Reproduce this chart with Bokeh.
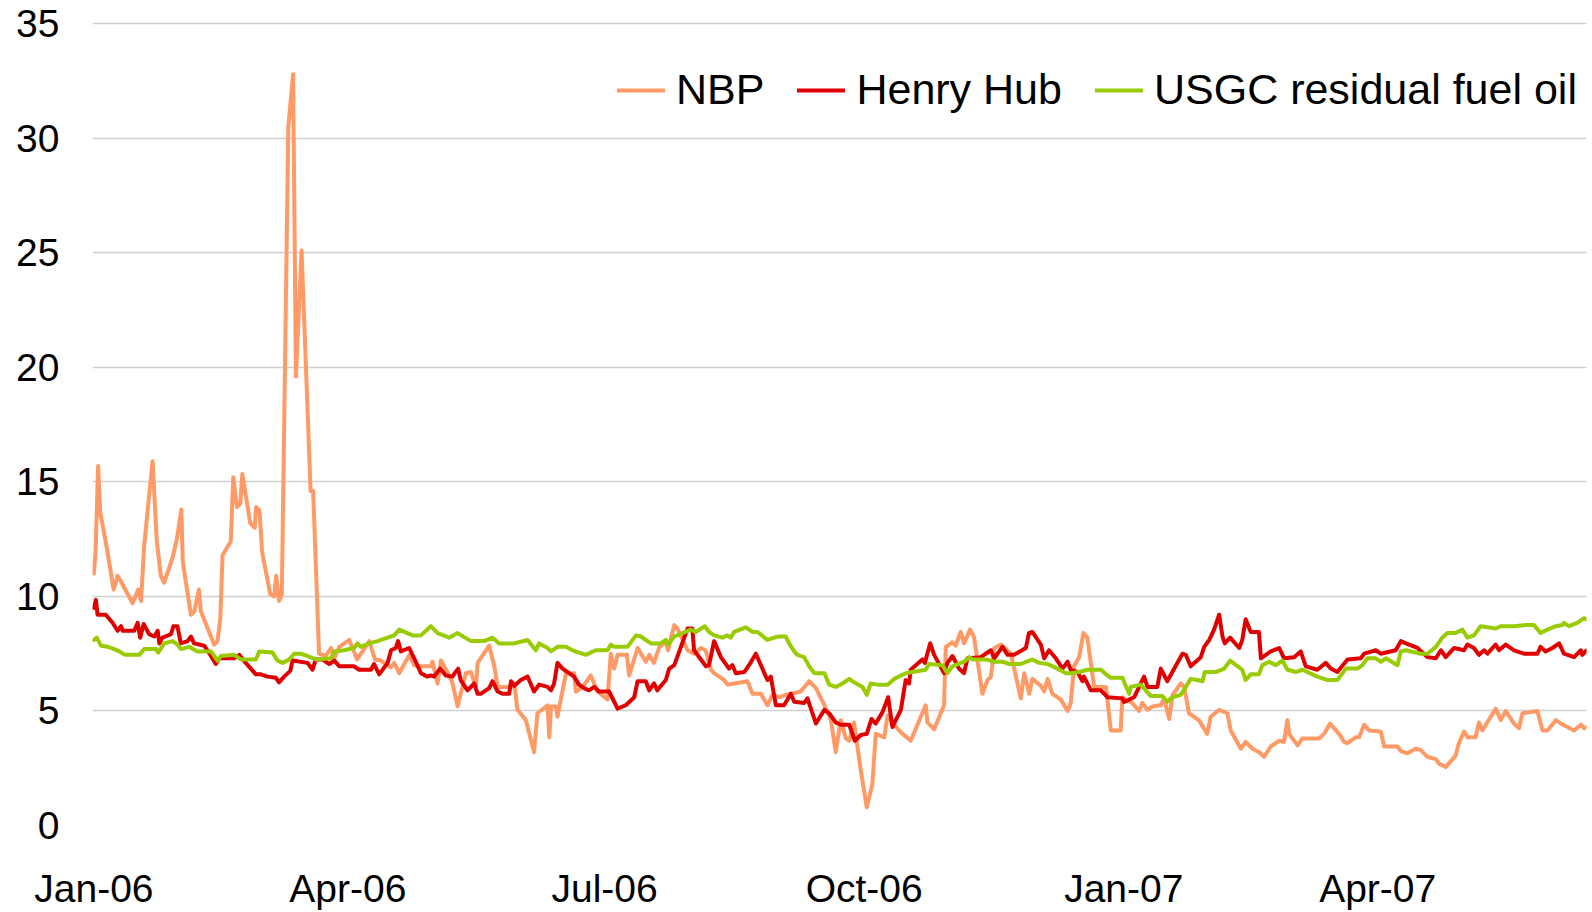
import pandas as pd
from bokeh.plotting import figure
from bokeh.models import Range1d, FixedTicker, Legend, LegendItem
from bokeh.embed import file_html
from bokeh.resources import INLINE

# ---------------- data (days since 1 Jan 2006) ----------------
base_date = "2006-01-01"

nbp_days = [0.0, 0.6, 1.5, 2.2, 4.6, 7.0, 8.4, 9.6, 13.7, 15.7, 16.7, 17.8, 20.8, 22.3, 23.7, 24.9,
            27.9, 29.4, 31.0, 31.5, 34.4, 35.6, 37.2, 37.9, 42.6, 43.8, 44.8, 45.6, 48.5, 49.4, 50.7,
            51.9, 52.6, 55.4, 57.0, 57.5, 58.7, 59.6, 62.5, 63.9, 64.6, 65.6, 66.6, 68.9, 70.6, 71.6,
            73.6, 76.8, 77.7, 79.8, 82.2, 84.0, 85.2, 87.0, 90.5, 93.3, 97.6, 99.6, 101.7, 105.2,
            106.4, 108.2, 111.8, 113.5, 115.9, 119.4, 120.0, 121.8, 123.0, 125.3, 127.1, 128.9,
            131.8, 133.6, 135.4, 136.0, 140.1, 141.9, 143.1, 148.4, 149.0, 150.1, 153.1, 156.0,
            157.2, 160.8, 161.4, 162.0, 163.7, 164.3, 167.3, 170.2, 170.8, 173.2, 176.1, 178.5,
            182.0, 183.2, 184.4, 185.6, 188.9, 189.7, 192.7, 195.6, 196.8, 198.5, 200.4, 202.7,
            203.5, 205.7, 206.8, 210.4, 212.7, 215.1, 216.8, 218.7, 219.8, 223.4, 224.6, 227.0,
            231.6, 233.4, 236.4, 238.7, 240.5, 242.9, 245.2, 250.5, 253.5, 255.9, 258.9, 261.2,
            262.9, 264.7, 266.5, 267.7, 269.4, 271.8, 273.9, 275.9, 277.1, 280.1, 281.3, 284.3,
            286.6, 289.5, 294.8, 295.4, 297.8, 301.3, 301.9, 304.3, 305.4, 307.2, 308.4, 310.5,
            311.9, 314.9, 316.7, 317.9, 319.1, 321.5, 325.0, 328.5, 329.7, 331.5, 332.6, 335.6,
            336.8, 338.0, 339.7, 342.7, 345.1, 346.2, 347.4, 349.2, 350.7, 352.1, 354.5, 356.9,
            358.7, 360.4, 363.9, 364.5, 368.0, 370.4, 371.6, 373.4, 375.2, 378.1, 379.3, 381.1,
            382.3, 385.2, 386.4, 388.1, 391.6, 394.6, 395.8, 398.8, 401.7, 402.9, 406.5, 408.2,
            410.6, 413.0, 414.7, 417.1, 420.1, 421.8, 423.0, 423.6, 426.6, 428.3, 434.2, 436.0,
            438.1, 441.3, 443.1, 444.3, 447.2, 448.4, 450.2, 452.0, 456.1, 457.3, 462.0, 463.2,
            465.5, 468.5, 470.2, 472.6, 475.6, 476.7, 479.1, 482.6, 483.8, 485.6, 486.8, 489.7,
            490.9, 492.1, 493.3, 496.8, 498.6, 500.4, 503.3, 505.1, 506.3, 511.6, 513.4, 515.2,
            518.1, 519.9, 524.6, 527.0, 528.1, 529.0]
nbp_vals = [11.0, 12.0, 15.7, 13.7, 12.1, 10.3, 10.9, 10.65, 9.7, 10.3, 9.8, 12.2, 15.9, 12.4, 10.9, 10.6,
            11.7, 12.5, 13.8, 11.5, 9.2, 9.35, 10.3, 9.35, 7.9, 8.05, 9.06, 11.8, 12.4, 15.2, 13.9,
            14.05, 15.35, 13.2, 13.0, 13.9, 13.75, 11.95, 10.1, 10.0, 10.9, 9.8, 10.1, 30.5, 32.8, 19.6,
            25.1, 14.6, 14.6, 7.5, 7.4, 7.75, 7.3, 7.8, 8.1, 7.25, 8.05, 7.25, 7.2, 6.9,
            7.1, 6.65, 7.45, 7.0, 6.95, 6.95, 7.15, 6.2, 7.2, 6.7, 6.2, 5.2,
            6.65, 6.7, 6.05, 7.1, 7.85, 6.95, 6.05, 6.05, 6.2, 5.05, 4.6, 3.2,
            4.9, 5.25, 3.85, 5.2, 5.2, 4.75, 6.65, 6.65, 5.85, 6.05, 6.55, 5.85,
            5.5, 7.5, 6.85, 7.45, 7.45, 6.55, 7.75, 7.15, 7.45, 7.1, 7.8, 8.0,
            7.65, 8.75, 8.6, 7.65, 7.5, 7.75, 7.65, 6.8, 6.65, 6.35, 6.15, 6.2,
            6.3, 5.75, 5.75, 5.25, 5.7, 5.6, 5.7, 5.85, 6.3, 6.0, 5.25, 4.6,
            3.2, 4.6, 3.8, 3.7, 4.5, 2.4, 0.8, 1.8, 4.0, 3.85, 4.8, 4.3,
            4.0, 3.7, 5.25, 4.5, 4.2, 5.25, 7.8, 8.0, 7.85, 8.45, 7.95, 8.55,
            8.25, 5.75, 6.35, 6.5, 7.75, 7.9, 7.5, 5.55, 6.65, 5.75, 6.4, 6.1,
            5.85, 6.4, 5.75, 5.5, 5.0, 5.35, 6.95, 7.35, 8.4, 8.2, 6.05, 6.05,
            6.05, 4.15, 4.15, 5.6, 5.35, 5.0, 5.35, 5.05, 5.2, 5.25, 5.55, 4.65,
            5.7, 6.2, 6.05, 4.9, 4.6, 4.0, 4.75, 5.05, 4.9, 4.15, 3.35, 3.65,
            3.35, 3.2, 3.0, 3.45, 3.7, 3.65, 4.6, 4.0, 3.5, 3.8, 3.8, 4.0,
            4.45, 4.0, 3.65, 3.6, 3.85, 3.85, 4.4, 4.15, 4.1, 3.45, 3.45, 3.25,
            3.15, 3.35, 3.3, 3.0, 2.9, 2.7, 2.55, 3.05, 3.6, 4.1, 3.85, 3.85,
            4.5, 4.15, 4.4, 5.1, 4.6, 5.0, 4.45, 4.25, 4.9, 5.0, 4.15, 4.15,
            4.6, 4.45, 4.15, 4.4, 4.25, 4.3]

hh_days = [0.0, 0.7, 1.3, 4.2, 6.6, 8.4, 9.6, 10.2, 14.3, 15.5, 16.4, 17.6, 19.6, 21.4, 22.6, 23.2,
           24.3, 27.3, 28.2, 29.6, 30.8, 33.2, 34.4, 35.5, 37.3, 39.1, 41.5, 43.2, 44.4, 49.7, 51.5,
           53.8, 57.4, 59.2, 61.5, 64.5, 65.6, 67.4, 69.6, 70.4, 75.7, 77.5, 78.6, 81.0, 83.4, 85.2,
           87.0, 92.2, 94.0, 98.2, 99.3, 101.1, 104.1, 105.3, 107.0, 107.8, 108.8, 111.7, 113.5,
           115.9, 118.2, 119.4, 120.6, 122.7, 124.7, 127.1, 127.9, 129.1, 130.0, 132.4, 134.8,
           136.0, 137.1, 140.1, 141.3, 143.1, 144.8, 147.2, 147.8, 149.0, 151.3, 153.7, 156.0,
           157.8, 160.8, 162.0, 163.1, 164.3, 166.1, 168.4, 170.2, 171.9, 173.7, 175.5, 177.3,
           179.0, 182.6, 185.6, 188.5, 191.5, 192.7, 195.6, 196.8, 198.5, 199.7, 202.7, 203.9,
           205.7, 210.4, 212.1, 212.7, 216.9, 218.0, 219.8, 222.2, 225.1, 226.3, 227.5, 230.5,
           232.2, 234.6, 238.7, 239.9, 241.7, 244.6, 247.0, 248.2, 251.7, 252.9, 255.9, 258.9,
           260.6, 262.9, 264.7, 267.7, 269.7, 271.8, 273.9, 275.6, 277.1, 279.5, 281.5, 283.0,
           286.0, 287.7, 288.9, 289.5, 293.6, 294.5, 296.4, 297.8, 301.3, 302.5, 304.3, 306.6,
           308.4, 309.6, 314.3, 317.9, 319.1, 322.0, 323.8, 326.1, 330.3, 331.4, 332.6, 335.6,
           336.8, 338.5, 340.9, 343.3, 345.1, 346.2, 348.6, 350.4, 350.9, 353.3, 356.9, 359.2,
           364.5, 365.1, 368.7, 372.2, 373.4, 376.9, 378.1, 380.4, 385.8, 387.0, 388.7, 392.3,
           393.5, 395.3, 397.0, 398.8, 400.0, 400.8, 402.7, 405.9, 407.0, 408.2, 410.0, 412.9,
           413.6, 417.1, 420.1, 421.8, 425.4, 427.7, 429.5, 433.6, 436.6, 438.4, 440.7, 444.3,
           449.0, 450.2, 454.3, 456.1, 461.4, 463.2, 465.0, 469.1, 472.6, 475.6, 477.4, 479.1,
           482.1, 485.6, 486.8, 489.1, 490.9, 492.7, 493.9, 496.8, 498.0, 500.4, 503.3, 506.8,
           511.6, 512.7, 514.5, 516.9, 519.3, 521.0, 524.6, 527.0, 527.5, 529.1]
hh_vals = [9.5, 9.85, 9.2, 9.2, 8.85, 8.5, 8.7, 8.5, 8.5, 8.85, 8.2, 8.8, 8.35, 8.25, 8.5, 7.95,
           8.2, 8.35, 8.7, 8.7, 7.95, 8.05, 8.25, 7.95, 7.9, 7.85, 7.4, 7.05, 7.3, 7.3, 7.45,
           7.1, 6.6, 6.6, 6.5, 6.45, 6.25, 6.5, 6.75, 7.2, 7.1, 6.8, 7.25, 7.25, 7.05, 7.2,
           6.95, 6.95, 6.8, 6.8, 7.05, 6.6, 7.1, 7.65, 7.75, 8.05, 7.6, 7.75, 7.3,
           6.65, 6.5, 6.55, 6.5, 6.85, 6.55, 6.5, 6.65, 6.85, 6.35, 5.9, 6.2,
           5.75, 5.75, 6.0, 6.3, 5.85, 5.75, 5.75, 6.3, 6.1, 6.35, 6.5, 5.85,
           6.15, 6.05, 5.9, 6.2, 7.1, 6.85, 6.65, 6.5, 6.15, 6.0, 5.9, 6.05,
           5.85, 5.85, 5.1, 5.25, 5.6, 6.3, 6.3, 5.9, 6.2, 5.9, 6.35, 6.85,
           7.0, 8.6, 8.6, 7.65, 6.95, 7.0, 8.05, 7.35, 6.85, 7.0, 6.65, 6.7,
           7.0, 7.5, 6.35, 6.5, 5.25, 5.25, 5.75, 5.4, 5.35, 5.55, 4.45, 5.05,
           4.9, 4.5, 4.4, 4.4, 3.7, 3.95, 4.0, 4.65, 4.45, 4.95, 5.6, 4.3,
           5.05, 6.35, 6.2, 6.8, 7.25, 7.1, 7.95, 7.45, 6.65, 7.1, 7.4, 6.85,
           6.65, 7.3, 7.35, 7.65, 7.3, 7.8, 7.45, 7.45, 7.75, 8.4, 8.45, 7.9,
           7.3, 7.65, 7.3, 6.85, 7.15, 6.8, 6.7, 6.3, 6.5, 5.9, 5.9, 5.6,
           5.55, 5.4, 5.6, 6.5, 6.05, 6.05, 6.85, 6.3, 7.5, 7.45, 6.95, 7.35,
           7.8, 8.1, 8.55, 9.2, 8.25, 7.95, 8.2, 7.75, 8.1, 9.0, 8.45, 8.45,
           7.3, 7.6, 7.75, 7.3, 7.35, 7.6, 6.95, 6.8, 7.1, 6.85, 6.7, 7.25,
           7.3, 7.5, 7.65, 7.5, 7.65, 8.05, 7.95, 7.75, 7.35, 7.3, 7.65, 7.35,
           7.75, 7.65, 7.9, 7.75, 7.45, 7.65, 7.5, 7.9, 7.65, 7.9, 7.65, 7.5,
           7.5, 7.8, 7.6, 7.75, 7.95, 7.5, 7.35, 7.65, 7.45, 7.65]

usgc_days = [0.0, 1.0, 2.5, 4.9, 7.2, 9.0, 11.0, 16.1, 17.8, 22.0, 22.8, 24.9, 27.9, 29.6, 30.8, 33.8,
             36.7, 41.5, 43.8, 45.0, 49.7, 52.1, 57.4, 58.6, 63.3, 65.1, 66.9, 69.2, 71.0, 73.3, 75.7,
             78.6, 84.0, 85.2, 88.7, 92.2, 93.4, 94.6, 97.6, 100.5, 106.4, 108.2, 112.9, 115.9, 119.4,
             121.8, 125.9, 128.9, 133.6, 138.3, 141.3, 143.6, 149.0, 153.7, 156.6, 157.8, 160.8,
             162.0, 164.3, 167.3, 169.6, 174.3, 177.9, 182.0, 183.2, 184.4, 189.1, 192.1, 193.8,
             197.4, 200.9, 202.7, 203.5, 205.7, 208.6, 211.5, 213.3, 216.5, 218.0, 219.8, 222.8,
             224.5, 225.7, 226.9, 231.0, 233.4, 235.2, 238.7, 242.3, 245.2, 246.4, 248.2, 249.3,
             251.7, 253.5, 255.3, 258.9, 260.6, 262.9, 265.3, 267.7, 269.4, 272.4, 273.9, 275.3,
             277.7, 281.3, 283.6, 287.7, 290.1, 294.8, 296.0, 300.7, 302.5, 304.3, 308.4, 310.2,
             311.3, 316.1, 319.1, 322.0, 324.4, 328.5, 332.6, 335.0, 338.0, 341.5, 344.5, 346.2,
             349.2, 352.1, 356.9, 359.2, 360.4, 364.5, 366.9, 367.5, 371.0, 374.6, 378.7, 380.4,
             382.2, 385.2, 387.0, 388.7, 391.1, 392.9, 393.7, 397.6, 400.6, 402.7, 407.0, 408.2,
             410.0, 412.9, 414.1, 416.5, 418.9, 421.2, 423.0, 426.0, 428.3, 433.6, 437.2, 440.7,
             443.7, 447.8, 449.6, 451.3, 454.3, 456.1, 457.9, 462.0, 463.2, 465.0, 470.2, 472.6,
             475.6, 477.9, 479.7, 482.6, 485.0, 486.8, 489.1, 491.5, 496.8, 498.6, 503.3, 507.5,
             510.4, 512.7, 515.1, 518.1, 520.4, 521.0, 522.8, 525.7, 528.1, 529.1]
usgc_vals = [8.1, 8.2, 7.85, 7.8, 7.7, 7.6, 7.45, 7.45, 7.7, 7.7, 7.55, 7.95, 8.05, 7.9, 7.7, 7.8,
             7.6, 7.6, 7.2, 7.4, 7.45, 7.25, 7.25, 7.6, 7.55, 7.2, 7.1, 7.25, 7.5, 7.5, 7.4,
             7.25, 7.3, 7.6, 7.65, 7.75, 7.95, 7.8, 7.95, 8.05, 8.3, 8.55, 8.3, 8.3, 8.7,
             8.4, 8.2, 8.4, 8.05, 8.05, 8.2, 7.95, 7.95, 8.1, 7.65, 7.95, 7.75,
             7.6, 7.8, 7.8, 7.65, 7.45, 7.65, 7.65, 7.9, 7.8, 7.8, 8.3, 8.25,
             7.95, 7.95, 8.1, 7.9, 8.25, 8.4, 8.55, 8.45, 8.7, 8.45, 8.3, 8.2,
             8.3, 8.2, 8.45, 8.65, 8.45, 8.45, 8.1, 8.25, 8.25, 7.95, 7.6, 7.45,
             7.35, 6.95, 6.65, 6.65, 6.15, 6.05, 6.2, 6.4, 6.25, 6.05, 5.7, 6.2,
             6.15, 6.15, 6.4, 6.65, 6.7, 6.8, 7.05, 7.0, 6.65, 6.95, 7.15, 7.35,
             7.25, 7.25, 7.15, 7.15, 7.05, 7.05, 7.25, 7.1, 7.05, 6.85, 6.65, 6.65,
             6.7, 6.8, 6.8, 6.55, 6.45, 6.45, 5.75, 6.05, 6.15, 5.65, 5.65, 5.4,
             5.6, 5.7, 6.05, 6.4, 6.35, 6.3, 6.7, 6.7, 6.85, 7.2, 6.8, 6.35,
             6.6, 6.6, 7.0, 7.15, 7.0, 7.2, 6.8, 6.7, 6.8, 6.5, 6.35, 6.35,
             6.85, 6.85, 7.0, 7.3, 7.3, 7.15, 7.3, 7.0, 7.6, 7.65, 7.5, 7.5,
             7.8, 8.2, 8.4, 8.4, 8.55, 8.2, 8.3, 8.7, 8.6, 8.7, 8.7, 8.75,
             8.75, 8.4, 8.55, 8.7, 8.75, 8.85, 8.7, 8.85, 9.05, 9.0]

series_names = ["NBP", "Henry Hub", "USGC residual fuel oil"]
series_colors = ["#FF9966", "#E00000", "#99CC00"]

tick_dates = ["2006-01-01", "2006-04-01", "2006-07-01", "2006-10-01", "2007-01-01", "2007-04-01"]
tick_labels = ["Jan-06", "Apr-06", "Jul-06", "Oct-06", "Jan-07", "Apr-07"]
y_ticks = [0, 5, 10, 15, 20, 25, 30, 35]
x_start_day = -0.5
x_end_day = 529.0

# ---------------- figure ----------------
FONT = "Liberation Sans"
p = figure(width=1592, height=912, output_backend="svg", toolbar_location=None,
           x_range=Range1d(x_start_day, x_end_day), y_range=Range1d(0, 35.1),
           min_border_left=92, min_border_right=6, min_border_top=21, min_border_bottom=87)
p.outline_line_color = None
p.background_fill_color = "white"
p.border_fill_color = "white"

tick_days = [(pd.Timestamp(d) - pd.Timestamp(base_date)).days for d in tick_dates]
p.xaxis.ticker = FixedTicker(ticks=tick_days)
p.xaxis.major_label_overrides = {int(d): lab for d, lab in zip(tick_days, tick_labels)}
p.yaxis.ticker = FixedTicker(ticks=y_ticks)

for ax in (p.xaxis[0], p.yaxis[0]):
    ax.axis_line_color = None
    ax.major_tick_line_color = None
    ax.minor_tick_line_color = None
    ax.major_tick_out = 0
    ax.major_tick_in = 0
    ax.major_label_text_font = FONT
    ax.major_label_text_font_size = "39px"
    ax.major_label_text_color = "black"
p.yaxis.major_label_standoff = 33
p.xaxis.major_label_standoff = 41

p.xgrid.grid_line_color = None
p.ygrid.grid_line_color = "#D0D0D0"
p.ygrid.grid_line_width = 1.5

renderers = []
for days, vals, col in [(nbp_days, nbp_vals, series_colors[0]),
                        (hh_days, hh_vals, series_colors[1]),
                        (usgc_days, usgc_vals, series_colors[2])]:
    r = p.line(days, vals, line_color=col, line_width=4, line_join="round", line_cap="round")
    renderers.append(r)

legend = Legend(items=[LegendItem(label=n, renderers=[r]) for n, r in zip(series_names, renderers)],
                orientation="horizontal", location=(525, 711))
legend.glyph_width = 48
legend.glyph_height = 20
legend.label_standoff = 11
legend.spacing = 33
legend.padding = 0
legend.margin = 0
legend.border_line_color = None
legend.background_fill_alpha = 0
legend.label_text_font = FONT
legend.label_text_font_size = "43px"
legend.label_text_color = "black"
legend.label_text_baseline = "middle"
p.add_layout(legend, "center")

open("out.html", "w").write(file_html(p, INLINE))
